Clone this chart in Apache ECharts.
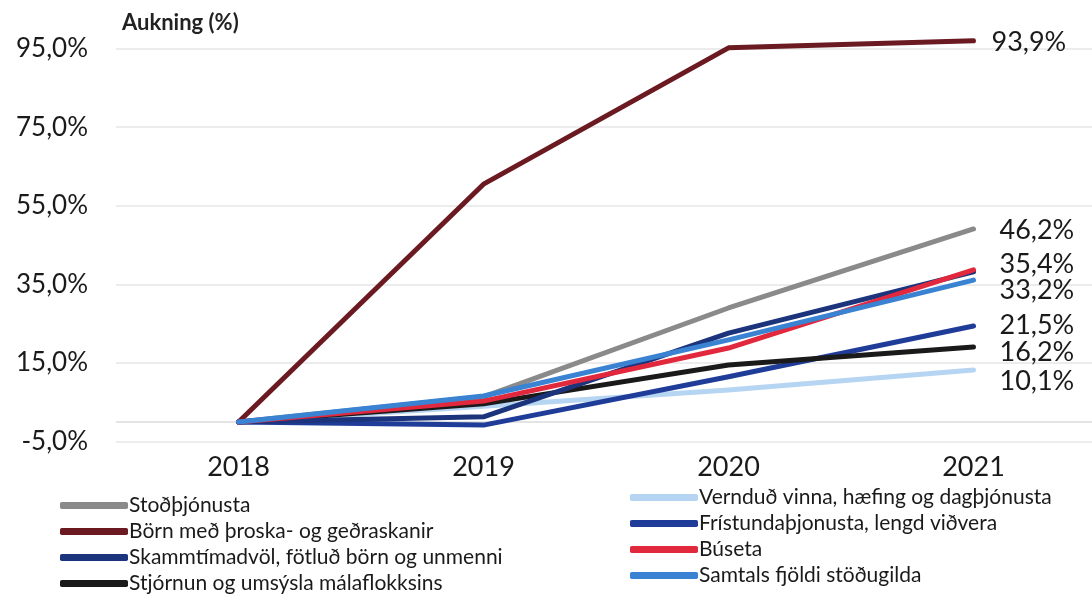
<!DOCTYPE html>
<html><head><meta charset="utf-8">
<script src="https://cdn.jsdelivr.net/npm/echarts@6/dist/echarts.min.js"></script>
<style>html,body{margin:0;padding:0;background:#fff}#c{width:1092px;height:601px}</style>
</head><body><div id="c"></div>
<script>
const years = ['2018', '2019', '2020', '2021'];
const yTicks = [-5, 15, 35, 55, 75, 95];
const zeroLine = [0];
const names = ['Vernduð vinna, hæfing og dagþjónusta', 'Stoðþjónusta', 'Börn með þroska- og geðraskanir', 'Frístundaþjonusta, lengd viðvera', 'Stjórnun og umsýsla málaflokksins', 'Skammtímadvöl, fötluð börn og unmenni', 'Búseta', 'Samtals fjöldi stöðugilda'];
const verndud = [0, 4.0, 8.1, 13.2];
const stod = [0, 6.4, 29.0, 49.1];
const born = [0, 60.5, 95.2, 97.0];
const fristund = [0, -0.8, 11.5, 24.4];
const stjorn = [0, 4.6, 14.5, 19.1];
const skammt = [0, 1.3, 22.6, 38.2];
const buseta = [0, 5.3, 18.8, 38.7];
const samtals = [0, 6.6, 20.9, 36.1];
const endLabels = ['10,1%', '46,2%', '93,9%', '21,5%', '16,2%', '', '35,4%', '33,2%'];
const leftLegend = ['Stoðþjónusta', 'Börn með þroska- og geðraskanir', 'Skammtímadvöl, fötluð börn og unmenni', 'Stjórnun og umsýsla málaflokksins'];
const rightLegend = ['Vernduð vinna, hæfing og dagþjónusta', 'Frístundaþjonusta, lengd viðvera', 'Búseta', 'Samtals fjöldi stöðugilda'];

const values = [verndud, stod, born, fristund, stjorn, skammt, buseta, samtals];
const colors = ['#b5d5f2', '#8a8a8a', '#6b1a22', '#1f3c98', '#1a1a1a', '#1c347c', '#e2283c', '#3a82d2'];
const labelOffsets = [[0, 11], [0, 1], [-8, 2], [0, -1], [0, 5], [0, 0], [0, -6], [0, 10]];
const font = 'Lato, "Open Sans", sans-serif';

const chart = echarts.init(document.getElementById('c'));
const series = values.map((d, i) => ({
  name: names[i], type: 'line', data: d, symbol: 'none', clip: false,
  lineStyle: {width: 5, color: colors[i], cap: 'round', join: 'round'},
  itemStyle: {color: colors[i]},
  z: 3 + i,
  endLabel: {show: endLabels[i] !== '', formatter: () => endLabels[i], distance: 26,
    offset: labelOffsets[i], fontSize: 27, color: '#1a1a1a', fontFamily: font}
}));
series[0].markLine = {silent: true, symbol: ['none', 'none'], label: {show: false},
  lineStyle: {color: '#e4e4e4', width: 2, type: 'solid'}, data: zeroLine.map(v => ({yAxis: v}))};

chart.setOption({
  animation: false,
  backgroundColor: '#fff',
  textStyle: {fontFamily: font},
  title: {text: 'Aukning (%)', left: 117, top: 7, textStyle: {fontSize: 22, fontWeight: 'bold', color: '#222', fontFamily: font}},
  grid: {left: 116, top: 48.6, width: 980, height: 393, containLabel: false, outerBoundsMode: 'none'},
  legend: [
    {data: leftLegend, orient: 'vertical', left: 55, top: 490, itemWidth: 68, itemHeight: 7, itemGap: 5, icon: 'roundRect',
     textStyle: {fontSize: 21, color: '#1a1a1a', fontFamily: font, padding: [0, 0, 0, -4]}},
    {data: rightLegend, orient: 'vertical', left: 625, top: 482, itemWidth: 68, itemHeight: 7, itemGap: 5, icon: 'roundRect',
     textStyle: {fontSize: 21, color: '#1a1a1a', fontFamily: font, padding: [0, 0, 0, -4]}}
  ],
  xAxis: {type: 'category', data: years, boundaryGap: true,
    axisLine: {show: false, onZero: false}, axisTick: {show: false},
    axisLabel: {fontSize: 27, color: '#1a1a1a', margin: 12, fontFamily: font}},
  yAxis: {type: 'value', min: yTicks[0], max: yTicks[yTicks.length - 1], interval: yTicks[1] - yTicks[0],
    axisLine: {show: false}, axisTick: {show: false},
    splitLine: {lineStyle: {color: '#ececec', width: 2}},
    axisLabel: {fontSize: 26, color: '#1a1a1a', margin: 28, fontFamily: font,
      formatter: v => v.toFixed(1).replace('.', ',') + '%'}},
  series: series
});
</script></body></html>
